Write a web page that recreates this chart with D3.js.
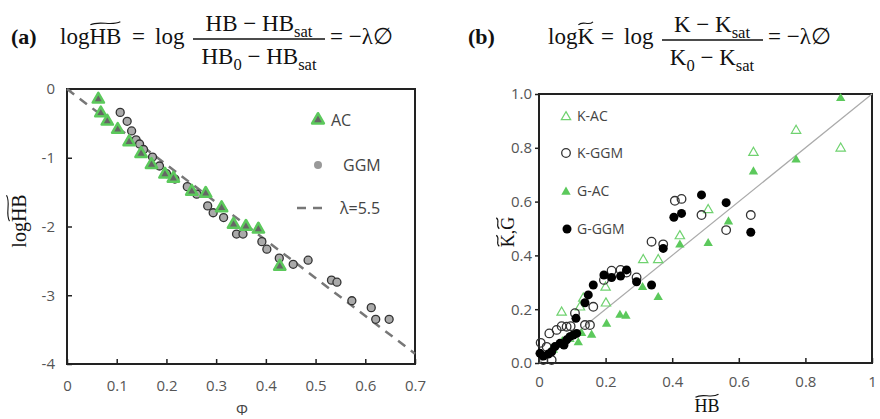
<!DOCTYPE html>
<html>
<head>
<meta charset="utf-8">
<script src="https://cdn.jsdelivr.net/npm/d3@7"></script>
<style>
  body { margin: 0; background: #fff; }
  svg { display: block; }
  text { white-space: pre; }
</style>
</head>
<body>
<svg id="paper" width="880" height="419"></svg>
<script>
// ---- panel (a) data: log(HB~) against phi ----
var acPhi  = [0.063, 0.068, 0.081, 0.102, 0.125, 0.149, 0.170, 0.197, 0.214, 0.251, 0.279, 0.311, 0.335, 0.360, 0.385, 0.428];
var acLog  = [-0.15, -0.35, -0.47, -0.59, -0.77, -0.94, -1.10, -1.24, -1.30, -1.49, -1.52, -1.73, -1.97, -2.00, -2.04, -2.58];
var ggmPhi = [0.107, 0.121, 0.130, 0.139, 0.146, 0.154, 0.172, 0.186, 0.200, 0.217, 0.242, 0.261, 0.283, 0.294, 0.315,
              0.341, 0.354, 0.392, 0.402, 0.427, 0.455, 0.485, 0.532, 0.543, 0.573, 0.612, 0.621, 0.648];
var ggmLog = [-0.34, -0.47, -0.61, -0.74, -0.80, -0.88, -0.99, -1.12, -1.23, -1.31, -1.42, -1.53, -1.70, -1.80, -1.87,
              -2.11, -2.11, -2.22, -2.33, -2.46, -2.55, -2.49, -2.78, -2.81, -3.08, -3.18, -3.35, -3.35];
var lambda = 5.5;
var aXTicks = [0, 0.1, 0.2, 0.3, 0.4, 0.5, 0.6, 0.7];
var aYTicks = [0, -1, -2, -3, -4];

// ---- panel (b) data: K~ and G~ against HB~ ----
var kacHB   = [0.040, 0.090, 0.068, 0.123, 0.133, 0.200, 0.201, 0.313, 0.358, 0.423, 0.508, 0.644, 0.772, 0.906];
var kacVal  = [0.050, 0.090, 0.188, 0.207, 0.240, 0.281, 0.222, 0.383, 0.383, 0.472, 0.569, 0.782, 0.864, 0.798];
var kggmHB  = [0.005, 0.013, 0.038, 0.023, 0.031, 0.053, 0.068, 0.083, 0.095, 0.108, 0.138, 0.153, 0.163, 0.195,
               0.218, 0.245, 0.263, 0.293, 0.338, 0.373, 0.408, 0.428, 0.488, 0.562, 0.636];
var kggmVal = [0.075, 0.011, 0.011, 0.060, 0.110, 0.123, 0.137, 0.135, 0.137, 0.185, 0.141, 0.141, 0.209, 0.309,
               0.343, 0.346, 0.336, 0.318, 0.451, 0.441, 0.603, 0.610, 0.550, 0.494, 0.550];
var gacHB   = [0.070, 0.118, 0.128, 0.158, 0.203, 0.243, 0.261, 0.311, 0.358, 0.423, 0.508, 0.569, 0.644, 0.772, 0.906];
var gacVal  = [0.080, 0.076, 0.110, 0.104, 0.145, 0.178, 0.175, 0.281, 0.244, 0.439, 0.445, 0.525, 0.711, 0.755, 0.984];
var gggmHB  = [0.003, 0.013, 0.028, 0.038, 0.048, 0.063, 0.075, 0.083, 0.093, 0.103, 0.113, 0.111, 0.138, 0.148,
               0.163, 0.195, 0.218, 0.245, 0.263, 0.293, 0.338, 0.373, 0.405, 0.428, 0.488, 0.562, 0.636];
var gggmVal = [0.036, 0.026, 0.033, 0.042, 0.061, 0.073, 0.067, 0.086, 0.098, 0.104, 0.110, 0.166, 0.224, 0.253,
               0.290, 0.327, 0.318, 0.323, 0.346, 0.302, 0.290, 0.426, 0.542, 0.556, 0.625, 0.596, 0.486];
var bXTicks = [0, 0.2, 0.4, 0.6, 0.8, 1];
var bYTicks = [0, 0.2, 0.4, 0.6, 0.8, 1.0];

var serif = "'Liberation Serif', 'Times New Roman', serif";
var sans = "'Open Sans', 'Noto Sans', sans-serif";
var green = "#5cc95c";

var svg = d3.select("#paper");

// ---------- little helpers for the formulas ----------
function piece(g, x, y, txt, size, weight) {
    var t = g.append("text")
        .attr("x", x).attr("y", y)
        .attr("font-family", serif)
        .attr("font-size", size)
        .attr("fill", "#111")
        .text(txt);
    if (weight) t.attr("font-weight", weight);
    return x + t.node().getComputedTextLength();
}

function tilde(g, x0, x1, y) {
    var w = x1 - x0;
    g.append("path")
        .attr("d", "M" + x0 + "," + (y + 1.5) +
            " C" + (x0 + w * 0.3) + "," + (y - 3) + " " + (x0 + w * 0.7) + "," + (y + 3) + " " + x1 + "," + (y - 1.5))
        .attr("fill", "none")
        .attr("stroke", "#111")
        .attr("stroke-width", 1.1);
}

// word with a wide tilde over it, returns right edge
function tildeWord(g, x, y, txt, size) {
    var x1 = piece(g, x, y, txt, size);
    tilde(g, x + 1, x1 - 1, y - size * 0.9);
    return x1;
}

// parts: [text, isSub]
function row(g, y, parts, size) {
    var x = 0;
    parts.forEach(function (p) {
        if (p[1]) x = piece(g, x, y + size * 0.28, p[0], size * 0.72);
        else x = piece(g, x, y, p[0], size);
    });
    return x;
}

function fraction(parent, cx, barY, num, den, size, barX0, barX1) {
    var gn = parent.append("g");
    var wn = row(gn, barY - 8, num, size);
    gn.attr("transform", "translate(" + (cx - wn / 2) + ",0)");
    var gd = parent.append("g");
    var wd = row(gd, barY + 25, den, size);
    gd.attr("transform", "translate(" + (cx - wd / 2) + ",0)");
    parent.append("line")
        .attr("x1", barX0).attr("x2", barX1)
        .attr("y1", barY).attr("y2", barY)
        .attr("stroke", "#111").attr("stroke-width", 1.3);
}

// ---------- titles ----------
var eqA = svg.append("g");
piece(eqA, 11, 44, "(a)", 22, "bold");
var xe = piece(eqA, 60, 44, "log", 23);
tildeWord(eqA, xe, 44, "HB", 23);
piece(eqA, 132, 44, "=", 23);
piece(eqA, 155, 44, "log", 23);
fraction(eqA, 259, 39,
    [["HB \u2212 HB"], ["sat", true]],
    [["HB"], ["0", true], [" \u2212 HB"], ["sat", true]], 23, 193, 325);
piece(eqA, 330, 44, "= \u2212\u03bb\u2205", 23);

var eqB = svg.append("g");
piece(eqB, 468, 44, "(b)", 22, "bold");
xe = piece(eqB, 548, 44, "log", 23);
tildeWord(eqB, xe, 44, "K", 23);
piece(eqB, 601, 44, "=", 23);
piece(eqB, 624, 44, "log", 23);
fraction(eqB, 712, 40,
    [["K \u2212 K"], ["sat", true]],
    [["K"], ["0", true], [" \u2212 K"], ["sat", true]], 23, 662, 763);
piece(eqB, 768, 44, "= \u2212\u03bb\u2205", 23);

// ---------- panel (a) ----------
var xa = d3.scaleLinear().domain([0, 0.7]).range([67, 415]);
var ya = d3.scaleLinear().domain([-4, 0]).range([364, 89]);
var pa = svg.append("g");

pa.append("rect")
    .attr("x", xa(0)).attr("y", ya(0))
    .attr("width", xa(0.7) - xa(0)).attr("height", ya(-4) - ya(0))
    .attr("fill", "none").attr("stroke", "#222").attr("stroke-width", 2);

var axA = pa.append("g")
    .attr("transform", "translate(0," + ya(-4) + ")")
    .call(d3.axisBottom(xa).tickValues(aXTicks).tickSize(-5).tickPadding(16).tickFormat(d => String(d)));
var ayA = pa.append("g")
    .attr("transform", "translate(" + xa(0) + ",0)")
    .call(d3.axisLeft(ya).tickValues(aYTicks).tickSize(-5).tickPadding(12).tickFormat(d => String(d)));

[axA, ayA].forEach(function (a) {
    a.select(".domain").remove();
    a.selectAll(".tick line").attr("stroke", "#222").attr("stroke-width", 1.5);
    a.selectAll(".tick text").attr("font-family", sans).attr("font-size", 15).attr("fill", "#555");
});

// lambda line
pa.append("line")
    .attr("x1", xa(0)).attr("y1", ya(0))
    .attr("x2", xa(0.7)).attr("y2", ya(-lambda * 0.7))
    .attr("stroke", "#777").attr("stroke-width", 2.5).attr("stroke-dasharray", "9,7");

pa.selectAll(".ggm")
    .data(ggmPhi)
    .enter().append("circle")
    .attr("class", "ggm")
    .attr("cx", d => xa(d))
    .attr("cy", (d, i) => ya(ggmLog[i]))
    .attr("r", 4)
    .attr("fill", "#aaa").attr("stroke", "#333").attr("stroke-width", 1.3);

var tri = d3.symbol().type(d3.symbolTriangle);
pa.selectAll(".ac")
    .data(acPhi)
    .enter().append("path")
    .attr("class", "ac")
    .attr("d", tri.size(55))
    .attr("transform", (d, i) => "translate(" + xa(d) + "," + ya(acLog[i]) + ")")
    .attr("fill", "#666").attr("stroke", green).attr("stroke-width", 2.5).attr("stroke-linejoin", "round");

// legend (a)
pa.append("path").attr("d", tri.size(60))
    .attr("transform", "translate(318,120)")
    .attr("fill", "#666").attr("stroke", green).attr("stroke-width", 2.5).attr("stroke-linejoin", "round");
pa.append("circle").attr("cx", 318).attr("cy", 165).attr("r", 4).attr("fill", "#999");
pa.append("line").attr("x1", 297).attr("x2", 323).attr("y1", 208).attr("y2", 208)
    .attr("stroke", "#777").attr("stroke-width", 2.5).attr("stroke-dasharray", "9,7");
[["AC", 331, 120], ["GGM", 343, 165], ["\u03bb=5.5", 340, 208]].forEach(function (l) {
    pa.append("text").attr("x", l[1]).attr("y", l[2]).attr("dy", "0.35em")
        .attr("font-family", sans).attr("font-size", 16).attr("fill", "#444").text(l[0]);
});

// axis titles (a)
var ylabA = pa.append("g");
var wA = piece(ylabA, 0, 0, "log", 20);
wA = tildeWord(ylabA, wA, 0, "HB", 20);
ylabA.attr("transform", "translate(26," + (221 + wA / 2) + ") rotate(-90)");
pa.append("text").attr("x", 242).attr("y", 410)
    .attr("dy", "0.35em")
    .attr("text-anchor", "middle").attr("font-family", sans).attr("font-size", 15).attr("fill", "#444")
    .text("\u03a6");

// ---------- panel (b) ----------
var xb = d3.scaleLinear().domain([0, 1]).range([539, 872]);
var yb = d3.scaleLinear().domain([0, 1]).range([363, 94]);
var pb = svg.append("g");

pb.append("rect")
    .attr("x", xb(0)).attr("y", yb(1))
    .attr("width", xb(1) - xb(0)).attr("height", yb(0) - yb(1))
    .attr("fill", "none").attr("stroke", "#222").attr("stroke-width", 2);

var axB = pb.append("g")
    .attr("transform", "translate(0," + yb(0) + ")")
    .call(d3.axisBottom(xb).tickValues(bXTicks).tickSize(-5).tickPadding(13).tickFormat(d => String(d)));
var ayB = pb.append("g")
    .attr("transform", "translate(" + xb(0) + ",0)")
    .call(d3.axisLeft(yb).tickValues(bYTicks).tickSize(4).tickPadding(3).tickFormat(d3.format(".1f")));

[axB, ayB].forEach(function (a) {
    a.select(".domain").remove();
    a.selectAll(".tick line").attr("stroke", "#222").attr("stroke-width", 1.5);
    a.selectAll(".tick text").attr("font-family", sans).attr("font-size", 15).attr("fill", "#555");
});

// 1:1 line
pb.append("line")
    .attr("x1", xb(0)).attr("y1", yb(0))
    .attr("x2", xb(1)).attr("y2", yb(1))
    .attr("stroke", "#aaa").attr("stroke-width", 1.2);

var triB = d3.symbol().type(d3.symbolTriangle).size(38);

pb.selectAll(".kac")
    .data(kacHB)
    .enter().append("path")
    .attr("class", "kac")
    .attr("d", triB)
    .attr("transform", (d, i) => "translate(" + xb(d) + "," + yb(kacVal[i]) + ")")
    .attr("fill", "none").attr("stroke", "#6fd26f").attr("stroke-width", 1.2);

pb.selectAll(".kggm")
    .data(kggmHB)
    .enter().append("circle")
    .attr("class", "kggm")
    .attr("cx", d => xb(d))
    .attr("cy", (d, i) => yb(kggmVal[i]))
    .attr("r", 4.3)
    .attr("fill", "none").attr("stroke", "#333").attr("stroke-width", 1.3);

pb.selectAll(".gac")
    .data(gacHB)
    .enter().append("path")
    .attr("class", "gac")
    .attr("d", triB)
    .attr("transform", (d, i) => "translate(" + xb(d) + "," + yb(gacVal[i]) + ")")
    .attr("fill", green);

pb.selectAll(".gggm")
    .data(gggmHB)
    .enter().append("circle")
    .attr("class", "gggm")
    .attr("cx", d => xb(d))
    .attr("cy", (d, i) => yb(gggmVal[i]))
    .attr("r", 4.5)
    .attr("fill", "#000");

// legend (b)
pb.append("path").attr("d", triB).attr("transform", "translate(566,117)")
    .attr("fill", "none").attr("stroke", "#6fd26f").attr("stroke-width", 1.2);
pb.append("circle").attr("cx", 566).attr("cy", 153).attr("r", 4.3)
    .attr("fill", "none").attr("stroke", "#333").attr("stroke-width", 1.3);
pb.append("path").attr("d", triB).attr("transform", "translate(566,192)").attr("fill", green);
pb.append("circle").attr("cx", 567).attr("cy", 229).attr("r", 4.5).attr("fill", "#000");
[["K-AC", 116], ["K-GGM", 153], ["G-AC", 191], ["G-GGM", 229]].forEach(function (l) {
    pb.append("text").attr("x", 577).attr("y", l[1]).attr("dy", "0.35em")
        .attr("font-family", sans).attr("font-size", 14).attr("fill", "#444").text(l[0]);
});

// axis titles (b)
var xlabB = pb.append("g");
var wB = tildeWord(xlabB, 0, 0, "HB", 18);
xlabB.attr("transform", "translate(" + (707 - wB / 2) + ",412)");

var ylabB = pb.append("g");
var wy = tildeWord(ylabB, 0, 0, "K", 18);
wy = piece(ylabB, wy, 0, ",", 18);
wy = tildeWord(ylabB, wy, 0, "G", 18);
ylabB.attr("transform", "translate(514," + (232 + wy / 2) + ") rotate(-90)");
</script>
</body>
</html>
